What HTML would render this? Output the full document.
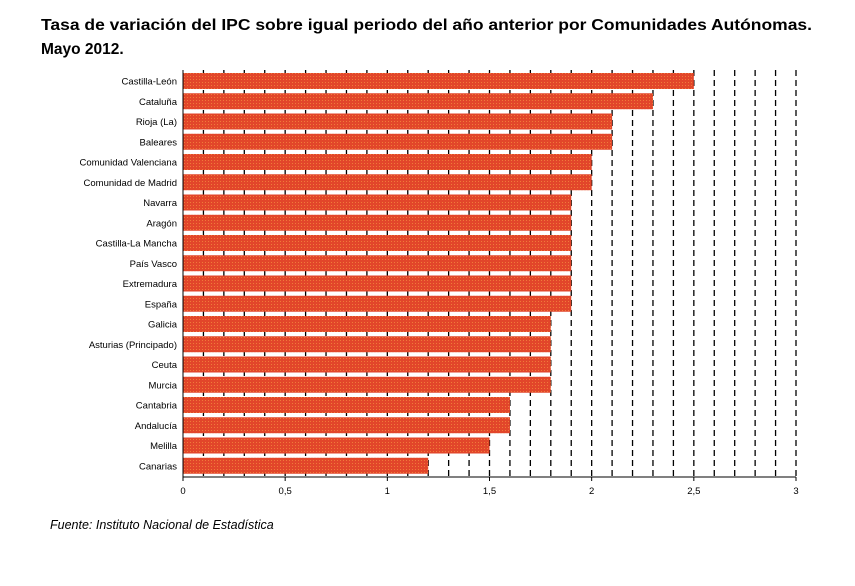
<!DOCTYPE html>
<html><head><meta charset="utf-8"><style>
body{margin:0;background:#fff;width:855px;height:581px;overflow:hidden;font-family:"Liberation Sans",Arial,sans-serif}
</style></head><body>
<svg width="855" height="581" xmlns="http://www.w3.org/2000/svg">
<defs><pattern id="tex" width="3" height="3" patternUnits="userSpaceOnUse"><rect width="3" height="3" fill="#e2462a"/><rect x="1" y="1" width="1" height="1" fill="#f07a3a"/></pattern></defs>
<text x="41" y="30" font-size="15.5" font-weight="bold" textLength="771" lengthAdjust="spacingAndGlyphs">Tasa de variación del IPC sobre igual periodo del año anterior por Comunidades Autónomas.</text>
<text x="41" y="54" font-size="15.5" font-weight="bold">Mayo 2012.</text>
<g id="grid"></g><g id="bars"></g><g id="axis"></g>
<text x="50" y="529" font-size="12.5" font-style="italic">Fuente: Instituto Nacional de Estadística</text>
</svg>
<script>
const categories=["Castilla-León","Cataluña","Rioja (La)","Baleares","Comunidad Valenciana","Comunidad de Madrid","Navarra","Aragón","Castilla-La Mancha","País Vasco","Extremadura","España","Galicia","Asturias (Principado)","Ceuta","Murcia","Cantabria","Andalucía","Melilla","Canarias"];
const values=[2.5,2.3,2.1,2.1,2.0,2.0,1.9,1.9,1.9,1.9,1.9,1.9,1.8,1.8,1.8,1.8,1.6,1.6,1.5,1.2];
const tickValues=[0,0.5,1,1.5,2,2.5,3];
const tickLabels=["0","0,5","1","1,5","2","2,5","3"];
const NS="http://www.w3.org/2000/svg";
const x0=183,x1=796,plotTop=70,pitch=20.25,bot=477;
const xs=v=>x0+v/3*(x1-x0);
const ys=i=>plotTop+3+i*pitch;
function mk(t,a,p){const e=document.createElementNS(NS,t);for(const k in a)e.setAttribute(k,a[k]);p.appendChild(e);return e;}
const g=document.getElementById('grid'),b=document.getElementById('bars'),ax=document.getElementById('axis');
for(let k=1;k<=30;k++){const l=mk('line',{x1:xs(k/10),x2:xs(k/10),y1:plotTop,y2:bot,stroke:'#000','stroke-width':1.3,'stroke-dasharray':'6 4'},g);

}
categories.forEach((c,i)=>{
const r=mk('rect',{x:x0,y:ys(i),width:xs(values[i])-x0,height:16,fill:'url(#tex)'},b);


const t=mk('text',{x:177,y:ys(i)+11.5,'font-size':9.5,'text-anchor':'end'},ax);t.textContent=c;


});
const a=mk('line',{x1:x0,x2:x1,y1:bot,y2:bot,stroke:'#000'},ax);


const ya=mk('line',{x1:x0,x2:x0,y1:plotTop,y2:bot,stroke:'#000'},ax);


tickValues.forEach((v,i)=>{
const tk=mk('line',{x1:xs(v),x2:xs(v),y1:bot,y2:bot+4,stroke:'#000'},ax);


const t=mk('text',{x:xs(v),y:bot+17,'font-size':9.5,'text-anchor':'middle'},ax);t.textContent=tickLabels[i];


});
</script>
</body></html>
